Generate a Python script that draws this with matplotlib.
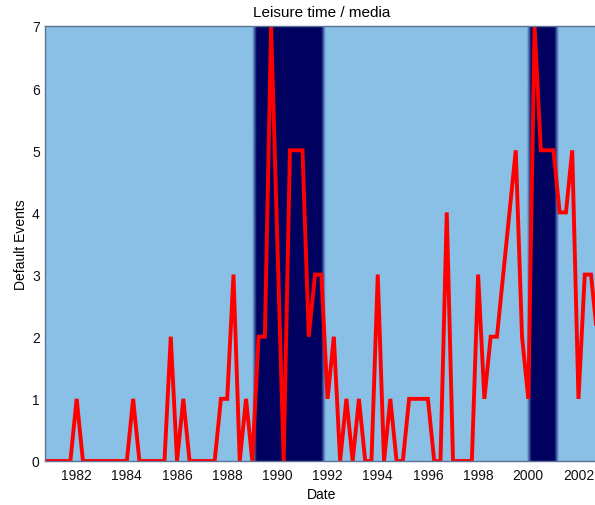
import numpy as np
import matplotlib
matplotlib.use("Agg")
import matplotlib.pyplot as plt

plt.rcParams['font.family'] = ['Liberation Sans', 'DejaVu Sans']

# Quarterly dates (1990.0 has no observation in the series)
dates = [d for d in np.arange(1980.75, 2002.76, 0.25) if abs(d - 1990.0) > 1e-6]

values = [0,
          0, 0, 0, 0,
          1, 0, 0, 0,
          0, 0, 0, 0,
          0, 1, 0, 0,
          0, 0, 0, 2,
          0, 1, 0, 0,
          0, 0, 0, 1,
          1, 3, 0, 1,
          0, 2, 2, 7,
          0, 5, 5,
          5, 2, 3, 3,
          1, 2, 0, 1,
          0, 1, 0, 0,
          3, 0, 1, 0,
          0, 1, 1, 1,
          1, 0, 0, 4,
          0, 0, 0, 0,
          3, 1, 2, 2,
          3, 4, 5, 2,
          1, 7, 5, 5,
          5, 4, 4, 5,
          1, 3, 3, 2]

band_starts = [1989.10, 2000.05]
band_ends = [1991.85, 2001.15]

title = "Leisure time / media"
xlabel = "Date"
ylabel = "Default Events"
xticks = list(range(1982, 2003, 2))
yticks = list(range(0, 8))

light = np.array([0x8A, 0xC0, 0xE6]) / 255.0
dark = np.array([0x00, 0x00, 0x60]) / 255.0

fig = plt.figure(figsize=(5.95, 5.06), dpi=100)
left_px, right_px = 45.3, 597.3
ax = fig.add_axes([left_px / 595, 1 - 462 / 506, (right_px - left_px) / 595, (462 - 27) / 506])

x0, x1 = dates[0], dates[-1]
ymin, ymax = 0, 7

# background shading with soft edges
grid = np.linspace(x0, x1, 2200)
ramp = 0.18
frac = np.zeros_like(grid)
for s, e in zip(band_starts, band_ends):
    up = np.clip((grid - (s - ramp / 2)) / ramp, 0, 1)
    down = np.clip(((e + ramp / 2) - grid) / ramp, 0, 1)
    frac = np.maximum(frac, np.minimum(up, down))
img = light[None, None, :] * (1 - frac[None, :, None]) + dark[None, None, :] * frac[None, :, None]
ax.imshow(img, extent=[x0, x1, ymin, ymax], aspect='auto', origin='lower',
          interpolation='bilinear', zorder=0)

ax.plot(dates, values, color='#FF0000', lw=2.8, zorder=3, solid_joinstyle='miter')

ax.set_xlim(x0, x1)
ax.set_ylim(ymin, ymax)
ax.set_xticks(xticks)
ax.set_xticklabels([str(t) for t in xticks])
ax.set_yticks(yticks)
ax.tick_params(length=0, labelsize=10, colors='#111111')
ax.tick_params(axis='x', pad=5)
ax.tick_params(axis='y', pad=4)
for sp in ax.spines.values():
    sp.set_color('#5f7396')
    sp.set_linewidth(1.0)
    sp.set_zorder(4)

ax.set_title(title, fontsize=11, pad=7)
ax.set_xlabel(xlabel, fontsize=10, labelpad=4)
ax.set_ylabel(ylabel, fontsize=10, labelpad=3)

fig.savefig("out.png", dpi=100)
